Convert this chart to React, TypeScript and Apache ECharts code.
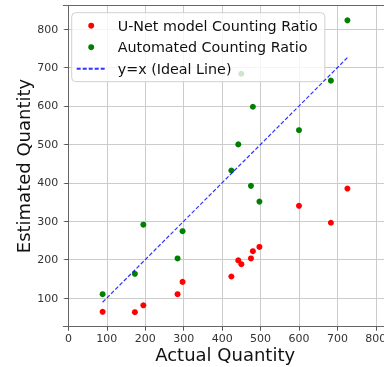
import React, { useEffect, useRef } from "react";
import * as echarts from "echarts";

const actualQuantity = [89, 173, 195, 284, 297, 424, 442, 450, 475, 480, 497, 600, 683, 726];
const unetEstimated = [64, 63, 81, 110, 142, 156, 198, 188, 203, 222, 233, 340, 296, 385];
const automatedEstimated = [110, 163, 291, 203, 274, 432, 500, 684, 392, 598, 351, 537, 666, 823];
const xTicks = [0, 100, 200, 300, 400, 500, 600, 700, 800];
const yTicks = [100, 200, 300, 400, 500, 600, 700, 800];
const seriesNames = ["U-Net model Counting Ratio", "Automated Counting Ratio", "y=x (Ideal Line)"];

const FONT = "DejaVu Sans";
const X_MIN = -13.3;
const X_MAX = 829;

export default function App() {
  const ref = useRef<HTMLDivElement>(null);
  useEffect(() => {
    if (!ref.current) return;
    const chart = echarts.init(ref.current, null, { renderer: "svg" });
    const lo = Math.min(...actualQuantity);
    const hi = Math.max(...actualQuantity);
    const spine = { show: true, lineStyle: { color: "#666", width: 1 } };
    const axisCommon = {
      type: "value" as const,
      nameLocation: "middle" as const,
      nameMoveOverlap: false,
      nameTextStyle: { fontFamily: FONT, fontSize: 18, color: "#111" },
      axisLine: spine,
      axisTick: { show: true, length: 4, lineStyle: { color: "#555", width: 1 } },
      axisLabel: { fontFamily: FONT, fontSize: 11, color: "#333", margin: 5 },
      splitLine: { show: true, lineStyle: { color: "#cccccc", width: 1 } },
    };
    chart.setOption({
      animation: false,
      grid: {
        left: 63.3,
        top: 5.3,
        right: -3,
        bottom: 40.3,
        outerBoundsMode: "none",
        containLabel: false,
      },
      xAxis: [
        {
          ...axisCommon,
          min: X_MIN,
          max: X_MAX,
          name: "Actual Quantity",
          nameGap: 18.5,
          axisTick: { ...axisCommon.axisTick, customValues: xTicks },
          axisLabel: { ...axisCommon.axisLabel, customValues: xTicks, margin: 6 },
        },
        {
          type: "value",
          position: "top",
          min: X_MIN,
          max: X_MAX,
          axisLine: spine,
          axisTick: { show: false },
          axisLabel: { show: false },
          splitLine: { show: false },
        },
      ],
      yAxis: {
        ...axisCommon,
        min: 25.3,
        max: 862.2,
        name: "Estimated Quantity",
        nameGap: 31,
        axisTick: { ...axisCommon.axisTick, customValues: yTicks },
        axisLabel: { ...axisCommon.axisLabel, customValues: yTicks },
      },
      legend: {
        orient: "vertical",
        left: 71.7,
        top: 12.7,
        padding: [6, 7, 6, 4],
        itemWidth: 29,
        itemHeight: 6,
        itemGap: 7.5,
        backgroundColor: "rgba(255,255,255,0.8)",
        borderColor: "#d0d0d0",
        borderWidth: 1,
        borderRadius: 4,
        textStyle: { fontFamily: FONT, fontSize: 14.3, color: "#111", lineHeight: 14, padding: [0, 0, 0, 7] },
        data: [
          seriesNames[0],
          seriesNames[1],
          { name: seriesNames[2], itemStyle: { color: "transparent", borderWidth: 0, opacity: 0 } },
        ],
      },
      series: [
        {
          name: seriesNames[0],
          type: "scatter",
          symbolSize: 6,
          itemStyle: { color: "#ff0000", opacity: 1 },
          data: actualQuantity.map((a, i) => [a, unetEstimated[i]]),
          z: 3,
        },
        {
          name: seriesNames[1],
          type: "scatter",
          symbolSize: 6,
          itemStyle: { color: "#008000", opacity: 1 },
          data: actualQuantity.map((a, i) => [a, automatedEstimated[i]]),
          z: 3,
        },
        {
          name: seriesNames[2],
          type: "line",
          symbol: "none",
          lineStyle: { color: "rgba(0,0,255,0.8)", width: 1.2, type: [4, 2] },
          itemStyle: { color: "rgba(0,0,255,0.8)" },
          data: [
            [lo, lo],
            [hi, hi],
          ],
          z: 4,
        },
      ],
    });
    return () => chart.dispose();
  }, []);
  return <div ref={ref} style={{ position: "fixed", left: 0, top: 0, width: 384, height: 367 }} />;
}
